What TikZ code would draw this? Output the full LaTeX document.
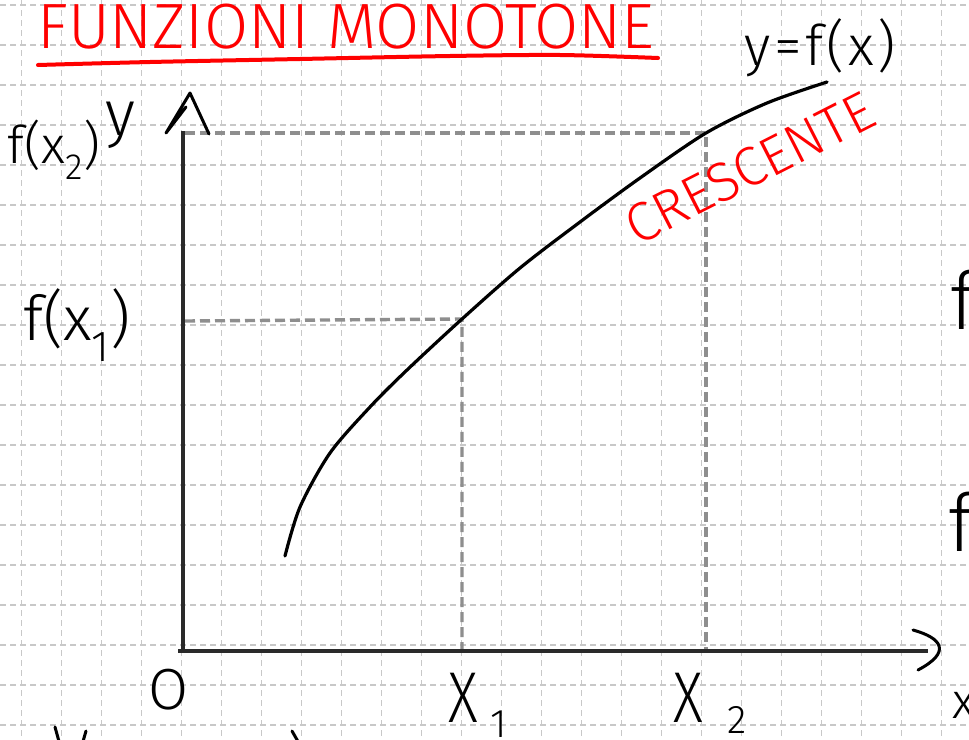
\documentclass[tikz,border=0pt]{standalone}
\usepackage{fontspec}
\newfontfamily\hand{Fira Sans Light}
\definecolor{gridgray}{HTML}{C8C8C8}
\definecolor{guidegray}{HTML}{8E8E8E}
\definecolor{axisblack}{HTML}{2A2A2A}
\definecolor{hred}{HTML}{FF0000}
\begin{document}
\begin{tikzpicture}[x=1pt,y=-1pt,
  gridline/.style={draw=gridgray, line width=1.3pt, dash pattern=on 6pt off 4pt},
  guide/.style={draw=guidegray, line width=3.4pt, dash pattern=on 10pt off 5pt},
  axisline/.style={draw=axisblack, line width=3.5pt},
  ink/.style={draw=black, line width=3pt, line cap=round, line join=round},
  redink/.style={draw=hred, line width=4pt, line cap=round, line join=round},
  lbl/.style={inner sep=0pt, text=black, font=\hand},
  redlbl/.style={inner sep=0pt, text=hred, font=\hand}
]
\useasboundingbox (0,0) rectangle (969,739);
\fill[white] (0,0) rectangle (969,739);
\clip (0,0) rectangle (969,739);
% grid
\foreach \i in {0,...,23} \draw[gridline] ({21.7+40*\i},0) -- ++(0,739);
\foreach \j in {0,...,18} \draw[gridline] (0,{5+40*\j}) -- ++(969,0);

% key points
\coordinate (O) at (183,651);
\coordinate (YT) at (183,131);
\coordinate (XR) at (928,651);
\coordinate (P1) at (462,319);
\coordinate (P2) at (706,133);
\coordinate (X1) at (462,651);
\coordinate (X2) at (706,651);
\coordinate (Y1) at (185,321);
\coordinate (Y2) at (185,133);

% guides
\draw[guide] (Y2) -- (P2) -- (X2);
\draw[guide] (Y1) -- (P1) -- (X1);

% axes
\draw[axisline] (O) -- (YT);
\draw[axisline] (178,651) -- (XR);
\draw[ink] (186,107) -- (166,133) -- (190,93) -- (209,134);
\draw[ink] (913,630) .. controls (942,638) and (952,652) .. (918,670);

% curve
\draw[ink, line width=3.2pt] plot[smooth, tension=0.5] coordinates {(285,556) (300,507) (330,453) (370,407) (407,370) (P1) (520,268) (580,222) (640,178) (P2) (767,103) (827,82)};

% title
\node[redlbl, font=\hand\fontsize{64}{64}\selectfont] (title) at (346,27) {FUNZIONI MONOTONE};
\draw[redink] plot[smooth, tension=0.5] coordinates {(38,65) (150,62) (300,59) (450,56) (560,55) (658,58)};

% labels
\node[lbl, font=\hand\fontsize{56}{56}\selectfont\addfontfeature{LetterSpace=6}] (yfx) at (820,48) {y=f(x)};
\node[redlbl, font=\hand\fontsize{55}{55}\selectfont, rotate=27] (cres) at (750,168) {CRESCENTE};
\node[lbl, font=\hand\fontsize{64}{64}\selectfont] (ylab) at (120,125) {y};
\node[lbl, font=\hand\fontsize{52}{52}\selectfont] (fx2) at (54,150) {f(x\textsubscript{2})};
\node[lbl, font=\hand\fontsize{62}{62}\selectfont] (fx1) at (77,325) {f(x\textsubscript{1})};
\node[lbl, font=\hand\fontsize{58}{58}\selectfont] (orig) at (169,690) {O};
\node[lbl, font=\hand\fontsize{72}{72}\selectfont] (lx1) at (463,698) {\scalebox{0.8}[1]{X}};
\node[lbl, font=\hand\fontsize{40}{40}\selectfont] (sx1) at (499,724) {1};
\node[lbl, font=\hand\fontsize{72}{72}\selectfont] (lx2) at (688,698) {\scalebox{0.8}[1]{X}};
\node[lbl, font=\hand\fontsize{40}{40}\selectfont] (sx2) at (737,720) {2};
\node[lbl, font=\hand\fontsize{50}{50}\selectfont, anchor=west] (xlab) at (952,705) {x};
\node[lbl, font=\hand\fontsize{80}{80}\selectfont, anchor=west] (fr1) at (950,300) {f};
\node[lbl, font=\hand\fontsize{80}{80}\selectfont, anchor=west] (fr2) at (948,522) {f};
% cut-off strokes at the bottom edge
\draw[ink] (55,727) -- (60,745);
\draw[ink] (86,731) -- (82,745);
\draw[ink] (292,731) -- (300,745);
\end{tikzpicture}
\end{document}
